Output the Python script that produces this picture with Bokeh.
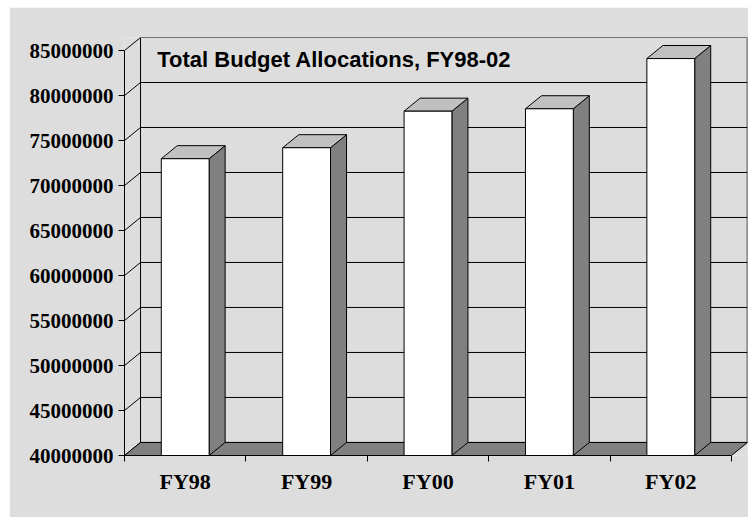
from bokeh.plotting import figure
from bokeh.models import Range1d, LinearAxis, FixedTicker, BasicTickFormatter, Label
from bokeh.embed import file_html
from bokeh.resources import INLINE

# ---- data ----
categories = ["FY98", "FY99", "FY00", "FY01", "FY02"]
allocations = [72980000, 74200000, 78260000, 78530000, 84110000]
y_ticks = [40000000, 45000000, 50000000, 55000000, 60000000,
           65000000, 70000000, 75000000, 80000000, 85000000]
title_text = "Total Budget Allocations, FY98-02"

# ---- geometry / style ----
BG = "#DDDDDD"
SIDE = "#808080"
TOP = "#C0C0C0"
N = len(categories)
Y0 = y_ticks[0]
YMAX = y_ticks[-1]
DX = 0.132          # depth offset in category units
DY = 1450000        # depth offset in value units
HALF = 0.197        # half bar width in category units

p = figure(width=739, height=510, output_backend="svg", toolbar_location=None,
           x_range=Range1d(0, N + DX), y_range=Range1d(Y0, YMAX + DY),
           x_axis_location=None, y_axis_location=None,
           min_border_left=115, min_border_right=1, min_border_top=30, min_border_bottom=62,
           background_fill_color=BG, border_fill_color=BG, outline_line_color=None)
p.margin = (7, 0, 0, 9)
p.grid.grid_line_color = None

# back wall gridlines (including floor back edge)
p.segment(x0=[DX] * len(y_ticks), y0=[v + DY for v in y_ticks],
          x1=[N + DX] * len(y_ticks), y1=[v + DY for v in y_ticks],
          line_color="black", line_width=1)
# back wall edges
p.segment(x0=[DX, N + DX - 0.002], y0=[Y0 + DY, Y0 + DY], x1=[DX, N + DX - 0.002], y1=[YMAX + DY, YMAX + DY],
          line_color="black", line_width=1)
# side wall diagonals
p.segment(x0=[0] * len(y_ticks), y0=y_ticks, x1=[DX] * len(y_ticks), y1=[v + DY for v in y_ticks],
          line_color="black", line_width=1)
# floor
p.patch([0, N, N + DX, DX], [Y0, Y0, Y0 + DY, Y0 + DY],
        fill_color=SIDE, line_color="black", line_width=1)

centers = [i + 0.5 for i in range(N)]
lefts = [c - HALF for c in centers]
rights = [c + HALF for c in centers]

# bar side faces
p.patches(xs=[[r, r + DX, r + DX, r] for r in rights],
          ys=[[Y0, Y0 + DY, v + DY, v] for v in allocations],
          fill_color=SIDE, line_color="black", line_width=1)
# bar top faces
p.patches(xs=[[l, r, r + DX, l + DX] for l, r in zip(lefts, rights)],
          ys=[[v, v, v + DY, v + DY] for v in allocations],
          fill_color=TOP, line_color="black", line_width=1)
# bar front faces
p.quad(left=lefts, right=rights, bottom=[Y0] * N, top=allocations,
       fill_color="white", line_color="black", line_width=1)

# y axis
yaxis = LinearAxis(ticker=FixedTicker(ticks=y_ticks),
                   formatter=BasicTickFormatter(use_scientific=False),
                   bounds=(Y0, YMAX))
yaxis.axis_line_color = "black"
yaxis.major_tick_line_color = "black"
yaxis.major_tick_out = 6
yaxis.major_tick_in = 0
yaxis.minor_tick_line_color = None
yaxis.major_label_standoff = 5
yaxis.major_label_text_font = "Liberation Serif"
yaxis.major_label_text_font_style = "bold"
yaxis.major_label_text_font_size = "21px"
yaxis.major_label_text_color = "black"
p.add_layout(yaxis, "left")

# x axis
xaxis = LinearAxis(ticker=FixedTicker(ticks=centers, minor_ticks=list(range(N + 1))),
                   bounds=(0, N))
xaxis.major_label_overrides = {c: cat for c, cat in zip(centers, categories)}
xaxis.axis_line_color = "black"
xaxis.major_tick_line_color = None
xaxis.major_tick_out = 6
xaxis.major_tick_in = 0
xaxis.minor_tick_line_color = "black"
xaxis.minor_tick_out = 6
xaxis.minor_tick_in = 0
xaxis.major_label_standoff = 7
xaxis.major_label_text_font = "Liberation Serif"
xaxis.major_label_text_font_style = "bold"
xaxis.major_label_text_font_size = "22px"
xaxis.major_label_text_color = "black"
p.add_layout(xaxis, "below")

# title inside the back wall
p.add_layout(Label(x=0.27, y=84000000, text=title_text,
                   text_font="Liberation Sans", text_font_style="bold",
                   text_font_size="22px", text_color="black",
                   text_baseline="alphabetic", text_align="left"))

open("out.html", "w").write(file_html(p, INLINE))
